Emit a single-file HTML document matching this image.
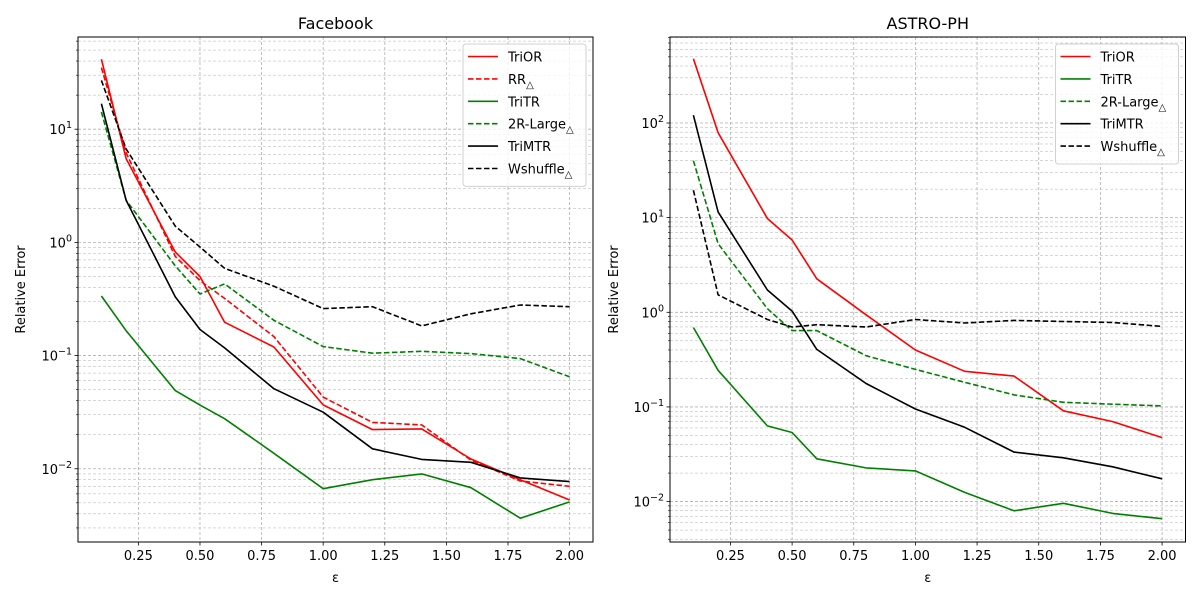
<!DOCTYPE html>
<html><head><meta charset="utf-8"><style>
body{margin:0;background:#fff;}
svg text{font-family:"DejaVu Sans","Liberation Sans",sans-serif;fill:#000;}
</style></head><body>
<svg id="chart" width="1200" height="600" xmlns="http://www.w3.org/2000/svg"></svg>
<script>
const epsValues = [0.1,0.2,0.4,0.5,0.6,0.8,1.0,1.2,1.4,1.6,1.8,2.0];
const xTickValues = [0.25,0.5,0.75,1.0,1.25,1.5,1.75,2.0];
const xTickLabels = ["0.25","0.50","0.75","1.00","1.25","1.50","1.75","2.00"];

const fbTriOR    = [41.5,5.5,0.82,0.5,0.197,0.119,0.0367,0.0222,0.0225,0.0122,0.008,0.0053];
const fbRR       = [35,6.2,0.75,0.46,0.32,0.147,0.043,0.0257,0.0244,0.0119,0.0078,0.007];
const fbTriTR    = [0.336,0.166,0.049,0.0365,0.0277,0.0137,0.00667,0.008,0.009,0.0068,0.00366,0.0051];
const fb2RLarge  = [14.2,2.36,0.62,0.35,0.43,0.205,0.12,0.105,0.109,0.104,0.094,0.065];
const fbTriMTR   = [16.8,2.36,0.33,0.17,0.117,0.051,0.0316,0.015,0.0121,0.0114,0.0083,0.0077];
const fbWshuffle = [27,6.7,1.39,0.91,0.59,0.41,0.26,0.27,0.183,0.234,0.28,0.27];

const apTriOR    = [478,79,9.8,5.8,2.26,0.94,0.40,0.238,0.212,0.091,0.07,0.0474];
const apTriTR    = [0.69,0.244,0.063,0.0537,0.0283,0.0227,0.0211,0.0125,0.008,0.0096,0.0075,0.0066];
const ap2RLarge  = [40,5.3,1.09,0.64,0.64,0.348,0.249,0.182,0.134,0.112,0.107,0.1026];
const apTriMTR   = [121,11.5,1.72,1.03,0.405,0.177,0.095,0.061,0.0333,0.029,0.0233,0.0174];
const apWshuffle = [19.5,1.53,0.84,0.70,0.74,0.70,0.84,0.77,0.82,0.80,0.78,0.71];

const NS="http://www.w3.org/2000/svg";
const svg=document.getElementById('chart');
function mk(tag,attrs,parent){const e=document.createElementNS(NS,tag);for(const k in attrs)e.setAttribute(k,attrs[k]);(parent||svg).appendChild(e);return e;}

function panel(cfg){
  const g=mk('g',{});
  
  
  const L=cfg.left,R=cfg.right,T=37,B=542;
  const xs=v=>L+(v-0.005)/(2.09)*(R-L);
  const ys=v=>T+(cfg.ymax-Math.log10(v))/(cfg.ymax-cfg.ymin)*(B-T);
  // grid minor/major horizontal
  for(let d=Math.floor(cfg.ymin);d<=Math.ceil(cfg.ymax);d++){
    for(let m=1;m<10;m++){
      const lv=d+Math.log10(m);
      if(lv<cfg.ymin||lv>cfg.ymax)continue;
      const y=ys(Math.pow(10,lv));
      const gl=mk('line',{x1:L,x2:R,y1:y,y2:y,stroke:'#b0b0b0','stroke-width':m==1?0.8:0.5,'stroke-dasharray':'3,2'},g);
      
      
      const tk=mk('line',{x1:L-(m==1?3.5:2),x2:L,y1:y,y2:y,stroke:'#000','stroke-width':m==1?0.8:0.6},g);
      
      
      if(m==1){
        const t=mk('text',{x:L-6,y:y+5,'text-anchor':'end','font-size':13},g);
        
        
        t.textContent='10';
        const s=mk('tspan',{dy:-6,'font-size':9.5},t);
        s.textContent=(d<0?'\u2212'+(-d):''+d);
      }
    }
  }
  xTickValues.forEach((v,i)=>{
    const x=xs(v);
    const gl=mk('line',{x1:x,x2:x,y1:T,y2:B,stroke:'#b0b0b0','stroke-width':0.8,'stroke-dasharray':'3,2'},g);
    
    
    const tk=mk('line',{x1:x,x2:x,y1:B,y2:B+3.5,stroke:'#000','stroke-width':0.8},g);
    
    
    const t=mk('text',{x:x,y:B+18,'text-anchor':'middle','font-size':13},g);
    
    
    t.textContent=xTickLabels[i];
  });
  cfg.series.forEach(s=>{
    const pts=epsValues.map((e,i)=>xs(e).toFixed(1)+','+ys(s.data[i]).toFixed(1)).join(' ');
    const p=mk('polyline',{points:pts,fill:'none',stroke:s.color,'stroke-width':1.6,'stroke-dasharray':s.dash?'5.5,2.5':'none','stroke-linejoin':'round'},g);
    
    
  });
  const fr=mk('rect',{x:L,y:T,width:R-L,height:B-T,fill:'none',stroke:'#000','stroke-width':1},g);
  
  
  const ti=mk('text',{x:(L+R)/2,y:29,'text-anchor':'middle','font-size':16},g);
  
  
  ti.textContent=cfg.title;
  const xl=mk('text',{x:(L+R)/2,y:582,'text-anchor':'middle','font-size':13},g);
  
  
  xl.textContent='ε';
  const yl=mk('text',{x:0,y:0,'text-anchor':'middle','font-size':13,transform:`translate(${cfg.ylabX},${(T+B)/2}) rotate(-90)`},g);
  
  
  yl.textContent='Relative Error';
  // legend
  const lw=123,lh=8+cfg.series.length*22.4;
  const lg=mk('g',{},g);
  
  
  mk('rect',{x:R-7-lw,y:44,width:lw,height:lh,rx:3,fill:'#fff','fill-opacity':0.8,stroke:'#d0d0d0','stroke-width':1},lg);
  cfg.series.forEach((s,i)=>{
    const y=56.5+i*22.4,x0=R-7-lw+5;
    const e=mk('g',{},lg);
    
    
    mk('line',{x1:x0,x2:x0+30,y1:y,y2:y,stroke:s.color,'stroke-width':1.6,'stroke-dasharray':s.dash?'5.5,2.5':'none'},e);
    const t=mk('text',{x:x0+40,y:y+5,'font-size':13},e);
    t.textContent=s.label;
    if(s.sub){const sp=mk('tspan',{dy:4,'font-size':10},t);sp.textContent='△';}
  });
}
panel({name:'facebook-panel',title:'Facebook',left:78,right:593,ymax:1.8145,ymin:-2.647,ylabX:25,series:[
 {key:'trior',label:'TriOR',data:fbTriOR,color:'#ff0000',dash:false},
 {key:'rr',label:'RR',sub:true,data:fbRR,color:'#ff0000',dash:true},
 {key:'tritr',label:'TriTR',data:fbTriTR,color:'#008000',dash:false},
 {key:'2rlarge',label:'2R-Large',sub:true,data:fb2RLarge,color:'#008000',dash:true},
 {key:'trimtr',label:'TriMTR',data:fbTriMTR,color:'#000000',dash:false},
 {key:'wshuffle',label:'Wshuffle',sub:true,data:fbWshuffle,color:'#000000',dash:true}]});
panel({name:'astro-ph-panel',title:'ASTRO-PH',left:670,right:1185.5,ymax:2.9086,ymin:-2.427,ylabX:618,series:[
 {key:'trior',label:'TriOR',data:apTriOR,color:'#ff0000',dash:false},
 {key:'tritr',label:'TriTR',data:apTriTR,color:'#008000',dash:false},
 {key:'2rlarge',label:'2R-Large',sub:true,data:ap2RLarge,color:'#008000',dash:true},
 {key:'trimtr',label:'TriMTR',data:apTriMTR,color:'#000000',dash:false},
 {key:'wshuffle',label:'Wshuffle',sub:true,data:apWshuffle,color:'#000000',dash:true}]});
</script>
</body></html>
